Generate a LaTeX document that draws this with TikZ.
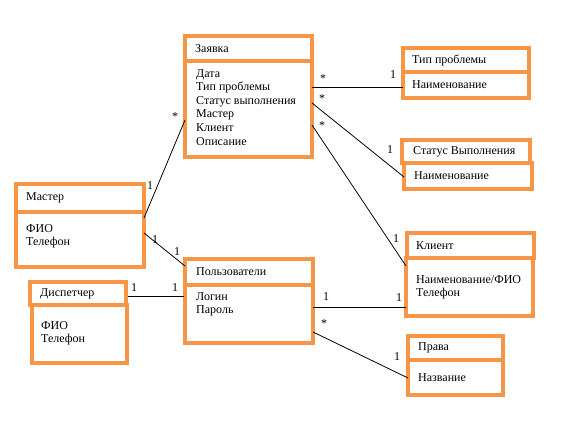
\documentclass[tikz,border=0pt]{standalone}
\usepackage{fontspec}
\setmainfont{Liberation Serif}
\usetikzlibrary{calc}
\definecolor{umlorange}{HTML}{F79646}

\begin{document}
\begin{tikzpicture}[x=1pt, y=-1pt, font=\fontsize{12}{13.6}\selectfont]

    % Styles for class boxes, texts and associations
    \tikzset{
        cls/.style={draw=umlorange, line width=3.2pt, anchor=north west, inner sep=0pt, outer sep=0pt},
        title/.style={anchor=west, inner sep=0pt},
        attr/.style={anchor=north west, inner sep=0pt, align=left},
        assoc/.style={draw=black, line width=0.8pt},
        mult/.style={inner sep=0pt, font=\fontsize{12}{13}\selectfont}
    }
    \useasboundingbox (0,0) rectangle (573,433);

    % ==========================================
    % Classes
    % ==========================================
    % Заявка
    \node[cls, minimum width=127, minimum height=25] (zayavka) at (185,36) {};
    \node[cls, minimum width=127, minimum height=96] (zayavkaB) at (185,61) {};
    \node[title] (zayavkaT) at ([shift={(10,0)}]zayavka.west) {Заявка};
    \node[attr] (zayavkaA) at ([shift={(11,8)}]zayavkaB.north west)
        {Дата\\Тип проблемы\\Статус выполнения\\Мастер\\Клиент\\Описание};

    % Тип проблемы
    \node[cls, minimum width=126, minimum height=24] (tip) at (403,48) {};
    \node[cls, minimum width=126, minimum height=26] (tipB) at (403,72) {};
    \node[title] (tipT) at ([shift={(9,0)}]tip.west) {Тип проблемы};
    \node[title] (tipA) at ([shift={(9,0)}]tipB.west) {Наименование};

    % Статус Выполнения
    \node[cls, minimum width=128, minimum height=23] (status) at (402,140) {};
    \node[cls, minimum width=128, minimum height=26] (statusB) at (404,163) {};
    \node[title] (statusT) at ([shift={(11,0)}]status.west) {Статус Выполнения};
    \node[title] (statusA) at ([shift={(10,0)}]statusB.west) {Наименование};

    % Мастер
    \node[cls, minimum width=128, minimum height=28] (master) at (16,184) {};
    \node[cls, minimum width=128, minimum height=55] (masterB) at (16,212) {};
    \node[title] (masterT) at ([shift={(10,0)}]master.west) {Мастер};
    \node[attr] (masterA) at ([shift={(10,12)}]masterB.north west) {ФИО\\Телефон};

    % Диспетчер
    \node[cls, minimum width=96, minimum height=23] (disp) at (30,282) {};
    \node[cls, minimum width=95, minimum height=58] (dispB) at (32,305) {};
    \node[title] (dispT) at ([shift={(10,0)}]disp.west) {Диспетчер};
    \node[attr] (dispA) at ([shift={(9,16)}]dispB.north west) {ФИО\\Телефон};

    % Пользователи
    \node[cls, minimum width=128, minimum height=26] (polz) at (185,259) {};
    \node[cls, minimum width=128, minimum height=58] (polzB) at (185,285) {};
    \node[title] (polzT) at ([shift={(11,0)}]polz.west) {Пользователи};
    \node[attr] (polzA) at ([shift={(11,7)}]polzB.north west) {Логин\\Пароль};

    % Клиент
    \node[cls, minimum width=127, minimum height=25] (klient) at (407,233) {};
    \node[cls, minimum width=127, minimum height=58] (klientB) at (406,258) {};
    \node[title] (klientT) at ([shift={(9,0)}]klient.west) {Клиент};
    \node[attr] (klientA) at ([shift={(10,17)}]klientB.north west) {Наименование/ФИО\\Телефон};

    % Права
    \node[cls, minimum width=95, minimum height=24] (prava) at (408,336) {};
    \node[cls, minimum width=95, minimum height=35] (pravaB) at (408,360) {};
    \node[title] (pravaT) at ([shift={(10,0)}]prava.west) {Права};
    \node[title] (pravaA) at ([shift={(10,0)}]pravaB.west) {Название};

    % ==========================================
    % Associations
    % ==========================================
    \draw[assoc] ([shift={(0,59)}]zayavkaB.north west) -- ([shift={(0,6)}]masterB.north east);
    \draw[assoc] ([shift={(0,26)}]zayavkaB.north east) -- ([shift={(0,15)}]tipB.north west);
    \draw[assoc] ([shift={(0,42)}]zayavkaB.north east) -- ([shift={(0,14)}]statusB.north west);
    \draw[assoc] ([shift={(0,64)}]zayavkaB.north east) -- ([shift={(0,8)}]klientB.north west);
    \draw[assoc] ([shift={(0,21)}]masterB.north east) -- ([shift={(0,7)}]polz.north west);
    \draw[assoc] ([shift={(2,14)}]disp.north east) -- ([shift={(-1,11)}]polzB.north west);
    \draw[assoc] ([shift={(0,22)}]polzB.north east) -- ([shift={(0,49)}]klientB.north west);
    \draw[assoc] ([shift={(0,47)}]polzB.north east) -- ([shift={(0,18)}]pravaB.north west);

    % Multiplicities
    \node[mult] (m1a) at (175,117) {*};
    \node[mult] (m1b) at (150,186) {1};
    \node[mult] (m2a) at (323,79) {*};
    \node[mult] (m2b) at (393,75) {1};
    \node[mult] (m3a) at (322,99) {*};
    \node[mult] (m3b) at (390,150) {1};
    \node[mult] (m4a) at (322,126) {*};
    \node[mult] (m4b) at (396,239) {1};
    \node[mult] (m5a) at (155,240) {1};
    \node[mult] (m5b) at (177,252) {1};
    \node[mult] (m6a) at (134,288) {1};
    \node[mult] (m6b) at (175,288) {1};
    \node[mult] (m7a) at (326,297) {1};
    \node[mult] (m7b) at (399,298) {1};
    \node[mult] (m8a) at (324,324) {*};
    \node[mult] (m8b) at (397,357) {1};

\end{tikzpicture}
\end{document}
